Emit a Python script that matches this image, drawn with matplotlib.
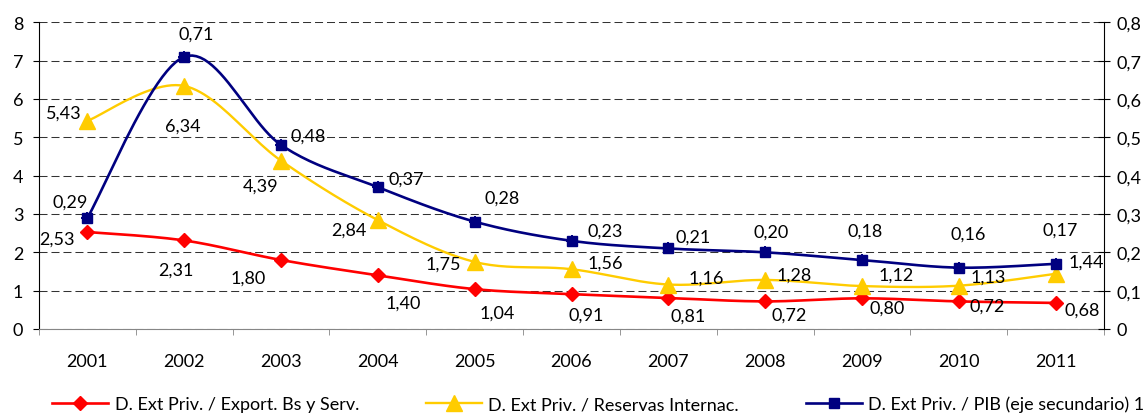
import numpy as np
import matplotlib.pyplot as plt
from matplotlib.lines import Line2D

plt.rcParams['font.family'] = ['Lato', 'DejaVu Sans']
plt.rcParams['font.size'] = 13

years = ['2001', '2002', '2003', '2004', '2005', '2006', '2007', '2008', '2009', '2010', '2011']
export_ratio = [2.53, 2.31, 1.80, 1.40, 1.04, 0.91, 0.81, 0.72, 0.80, 0.72, 0.68]
reserves_ratio = [5.43, 6.34, 4.39, 2.84, 1.75, 1.56, 1.16, 1.28, 1.12, 1.13, 1.44]
gdp_ratio = [0.29, 0.71, 0.48, 0.37, 0.28, 0.23, 0.21, 0.20, 0.18, 0.16, 0.17]

names = ['D. Ext Priv. / Export. Bs y Serv.',
         'D. Ext Priv. / Reservas Internac.',
         'D. Ext Priv. / PIB (eje secundario) 1']

# label offsets in pixels from each marker
export_off = [(-30, -7), (-8, -29), (-33, -18), (25, -27), (23, -23), (15, -21),
              (20, -18), (24, -13), (25, -9), (28, -4), (27, -7)]
reserves_off = [(-24, 8), (-1, -40), (-20, -25), (-29, -10), (-31, -2), (34, 7),
                (38, 7), (29, 5), (34, 11), (29, 9), (31, 12)]
gdp_off = [(-17, 16), (12, 23), (27, 9), (28, 9), (27, 24), (34, 10),
           (25, 12), (6, 21), (3, 29), (9, 34), (5, 34)]


def smooth(vals, n=24):
    # Catmull-Rom bezier through the points (Excel style smoothed line)
    pts = np.column_stack([np.arange(len(vals), dtype=float), vals])
    p = np.vstack([pts[0], pts, pts[-1]])
    t = np.linspace(0, 1, n, endpoint=False)[:, None]
    segs = []
    for i in range(1, len(p) - 2):
        p0, p1, p2, p3 = p[i - 1], p[i], p[i + 1], p[i + 2]
        c1 = p1 + (p2 - p0) / 6
        c2 = p2 - (p3 - p1) / 6
        segs.append((1 - t) ** 3 * p1 + 3 * (1 - t) ** 2 * t * c1
                    + 3 * (1 - t) * t ** 2 * c2 + t ** 3 * p2)
    segs.append(p[-2][None, :])
    out = np.vstack(segs)
    return out[:, 0], out[:, 1]


def fmt(v, d=2):
    return f'{v:.{d}f}'.replace('.', ',')


W, H = 1148, 414
fig = plt.figure(figsize=(W / 100, H / 100), dpi=100)
ax = fig.add_axes([39 / W, 1 - 330 / H, (1104 - 39) / W, (330 - 23.3) / H])
ax2 = ax.twinx()

x = np.arange(len(years))
red, yellow, blue = '#ff0000', '#ffcc00', '#000080'

ax.plot(*smooth(export_ratio), color=red, lw=1.9, zorder=3)
ax.plot(x, export_ratio, ls='none', marker='D', ms=7.5, color=red, zorder=4)
ax.plot(*smooth(reserves_ratio), color=yellow, lw=1.7, zorder=3)
ax.plot(x, reserves_ratio, ls='none', marker='^', ms=12, color=yellow, zorder=4)
ax2.plot(*smooth(gdp_ratio), color=blue, lw=1.9, zorder=3)
ax2.plot(x, gdp_ratio, ls='none', marker='s', ms=6.5, color=blue, zorder=4)
ax2.plot(x, gdp_ratio, ls='none', marker='+', ms=9, mew=1.4, color=blue, zorder=4)

for xi, v, o in zip(x, export_ratio, export_off):
    ax.annotate(fmt(v), (xi, v), xytext=o, textcoords='offset pixels',
                ha='center', va='center', zorder=6)
for xi, v, o in zip(x, reserves_ratio, reserves_off):
    ax.annotate(fmt(v), (xi, v), xytext=o, textcoords='offset pixels',
                ha='center', va='center', zorder=6)
for xi, v, o in zip(x, gdp_ratio, gdp_off):
    ax2.annotate(fmt(v), (xi, v), xytext=o, textcoords='offset pixels',
                 ha='center', va='center', zorder=6)

ax.set_xlim(-0.5, 10.5)
ax.set_ylim(0, 8)
ax2.set_ylim(0, 0.8)

ax.set_xticks(x)
ax.set_xticklabels(years)
ax.set_xticks(np.arange(-0.5, 11, 1), minor=True)
ax.tick_params(axis='x', which='major', length=0, pad=17)
ax.tick_params(axis='x', which='minor', length=4.3, direction='out', color='#868686')

ax.set_yticks(range(0, 9))
ax.tick_params(axis='y', length=4.3, direction='out', pad=7)
ax2.set_yticks(np.arange(0, 0.81, 0.1))
ax2.set_yticklabels(['0'] + [fmt(v, 1) for v in np.arange(0.1, 0.81, 0.1)])
ax2.tick_params(axis='y', length=8.6, direction='inout', pad=5)

ax.grid(axis='y', color='#333333', lw=0.75, ls=(0, (7.7, 3.8)))
ax.set_axisbelow(True)

for s in ['top', 'right']:
    ax.spines[s].set_visible(False)
for s in ['top', 'left', 'bottom']:
    ax2.spines[s].set_visible(False)
ax.spines['bottom'].set_color('#868686')
ax.spines['left'].set_color('black')
ax2.spines['right'].set_color('black')

handles = [
    Line2D([], [], color=red, lw=1.9, marker='D', ms=7.5),
    Line2D([], [], color=yellow, lw=1.7, marker='^', ms=12),
    Line2D([], [], color=blue, lw=1.9, marker='s', ms=6.5),
]
fig.legend(handles, names, loc='center', bbox_to_anchor=(0.521, 0.022), ncol=3,
           frameon=False, handlelength=3.1, handletextpad=0.36, columnspacing=3.7)

fig.savefig('out.png', dpi=100)
